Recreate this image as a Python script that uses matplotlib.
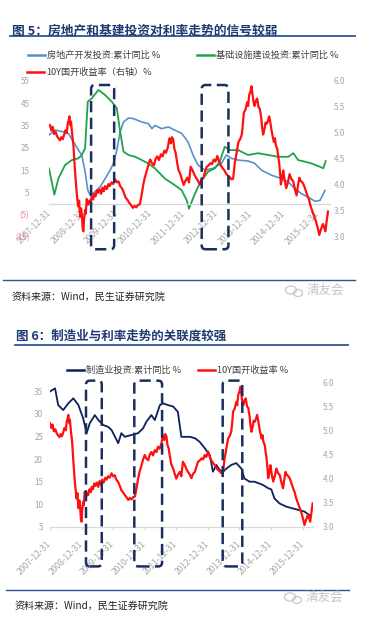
import matplotlib
matplotlib.use("Agg")
import matplotlib.pyplot as plt
from matplotlib.patches import FancyBboxPatch, Ellipse
from matplotlib.lines import Line2D
from matplotlib.transforms import IdentityTransform

plt.rcParams['font.family'] = ['Noto Sans CJK SC', 'DejaVu Sans']

# x values are decimal years
tick_pos = [2008, 2009, 2010, 2011, 2012, 2013, 2014, 2015, 2016]
tick_labels = ["2007-12-31", "2008-12-31", "2009-12-31", "2010-12-31", "2011-12-31",
               "2012-12-31", "2013-12-31", "2014-12-31", "2015-12-31"]

# 房地产开发投资:累计同比 (%)
re_x = [2007.97, 2008.15, 2008.4, 2008.55, 2008.7, 2008.85, 2008.95, 2009.05, 2009.13, 2009.2,
        2009.35, 2009.5, 2009.65, 2009.8, 2009.9, 2010.0, 2010.1, 2010.2, 2010.35, 2010.5,
        2010.75, 2010.94, 2011.05, 2011.14, 2011.34, 2011.54, 2011.74, 2011.94, 2012.13, 2012.28,
        2012.43, 2012.63, 2012.88, 2013.13, 2013.28, 2013.43, 2013.63, 2013.93, 2014.13, 2014.33,
        2014.63, 2014.93, 2015.13, 2015.33, 2015.53, 2015.73, 2015.93, 2016.08, 2016.23]
re_y = [30.7, 33, 32.2, 31.5, 27.7, 24, 21.8, 14.3, 6.1, 3.8,
        5.3, 7.5, 11.2, 15, 18, 24, 32.2, 36.6, 38.4, 38.1,
        36.6, 35.9, 33.6, 35.1, 33.6, 34.4, 32.9, 31.5, 27.7, 21.8,
        17.3, 15, 15.8, 18, 21.8, 20.3, 19.5, 19.1, 18, 15,
        12.7, 11.2, 9.7, 6.7, 4.4, 2.9, 1.0, 1.4, 5.9]

# 基础设施建设投资:累计同比 (%)
infra_x = [2007.97, 2008.13, 2008.25, 2008.45, 2008.65, 2008.85, 2008.95, 2009.05, 2009.13, 2009.25,
           2009.45, 2009.65, 2009.85, 2010.0, 2010.1, 2010.2, 2010.35, 2010.55, 2010.75, 2010.94,
           2011.14, 2011.44, 2011.74, 2011.94, 2012.09, 2012.16, 2012.28, 2012.43, 2012.58, 2012.73,
           2012.93, 2013.08, 2013.23, 2013.38, 2013.63, 2013.93, 2014.23, 2014.53, 2014.83, 2015.13,
           2015.28, 2015.43, 2015.63, 2015.83, 2016.08, 2016.18, 2016.25]
infra_y = [15.8, 4.0, 11.2, 17.3, 19.5, 20.3, 21.8, 24.8, 45.7, 47.2,
           51, 48.7, 45.7, 42.7, 32.2, 23.3, 21.8, 21, 19.5, 18,
           15.8, 11.2, 8.2, 6, 1.5, -2.3, 2.3, 7.5, 11.2, 14.3,
           15.8, 18.8, 25.5, 24, 24, 21.8, 22.6, 21.8, 21, 21,
           22.6, 19.5, 18.8, 18, 16.5, 15.8, 19.1]

# 制造业投资:累计同比 (%)
mfg_x = [2008.0, 2008.16, 2008.26, 2008.42, 2008.58, 2008.74, 2008.9, 2009.05, 2009.16, 2009.26,
         2009.42, 2009.53, 2009.69, 2009.84, 2009.95, 2010.11, 2010.16, 2010.26, 2010.37, 2010.58,
         2010.79, 2010.95, 2011.05, 2011.21, 2011.32, 2011.48, 2011.58, 2011.74, 2011.9, 2012.05,
         2012.16, 2012.43, 2012.59, 2012.74, 2012.9, 2013.06, 2013.16, 2013.27, 2013.37, 2013.48,
         2013.59, 2013.74, 2013.9, 2014.06, 2014.16, 2014.32, 2014.48, 2014.59, 2014.74, 2014.9,
         2015.01, 2015.11, 2015.27, 2015.48, 2015.69, 2015.9, 2016.06, 2016.22, 2016.27]
mfg_y = [34.9, 35.6, 31.9, 30.8, 32.3, 33.4, 31.9, 29.0, 25.7, 27.9,
         29.7, 28.6, 27.5, 27.1, 26.4, 24.2, 23.5, 25.7, 24.9, 25.3,
         25.7, 26.8, 28.2, 29.7, 28.6, 31.9, 32.3, 31.9, 31.6, 30.4,
         24.9, 24.9, 24.6, 23.8, 22.4, 20.9, 17.2, 18.7, 17.6, 17.2,
         17.9, 18.7, 19.1, 17.9, 15.7, 15.0, 15.0, 14.7, 14.3, 13.6,
         13.3, 11.3, 10.2, 9.5, 9.1, 8.7, 8.4, 7.6, 7.3]

# 10Y国开收益率 (%)
cdb_x = [2008.00, 2008.04, 2008.08, 2008.12, 2008.17, 2008.21, 2008.25, 2008.30, 2008.34, 2008.38,
         2008.42, 2008.46, 2008.50, 2008.53, 2008.56, 2008.58, 2008.61, 2008.63, 2008.66, 2008.70,
         2008.73, 2008.77, 2008.80, 2008.84, 2008.87, 2008.90, 2008.93, 2008.95, 2008.98, 2009.00,
         2009.02, 2009.05, 2009.07, 2009.10, 2009.14, 2009.18, 2009.21, 2009.25, 2009.29, 2009.32,
         2009.36, 2009.40, 2009.44, 2009.48, 2009.53, 2009.57, 2009.61, 2009.65, 2009.70, 2009.75,
         2009.79, 2009.84, 2009.89, 2009.95, 2010.00, 2010.05, 2010.10, 2010.16, 2010.21, 2010.26,
         2010.31, 2010.37, 2010.42, 2010.48, 2010.53, 2010.58, 2010.64, 2010.69, 2010.74, 2010.79,
         2010.84, 2010.90, 2010.95, 2011.00, 2011.05, 2011.11, 2011.16, 2011.21, 2011.26, 2011.32,
         2011.37, 2011.42, 2011.47, 2011.53, 2011.56, 2011.58, 2011.62, 2011.65, 2011.69, 2011.72,
         2011.76, 2011.79, 2011.84, 2011.90, 2011.95, 2012.00, 2012.05, 2012.11, 2012.16, 2012.21,
         2012.27, 2012.32, 2012.37, 2012.43, 2012.48, 2012.53, 2012.59, 2012.64, 2012.69, 2012.75,
         2012.80, 2012.85, 2012.90, 2012.95, 2013.01, 2013.06, 2013.11, 2013.17, 2013.22, 2013.27,
         2013.32, 2013.38, 2013.43, 2013.48, 2013.51, 2013.53, 2013.58, 2013.64, 2013.69, 2013.74,
         2013.77, 2013.80, 2013.85, 2013.90, 2013.93, 2013.96, 2014.00, 2014.03, 2014.06, 2014.09,
         2014.12, 2014.16, 2014.20, 2014.24, 2014.28, 2014.32, 2014.35, 2014.38, 2014.42, 2014.45,
         2014.49, 2014.53, 2014.56, 2014.59, 2014.63, 2014.66, 2014.70, 2014.73, 2014.76, 2014.80,
         2014.83, 2014.86, 2014.89, 2014.91, 2014.95, 2014.98, 2015.02, 2015.07, 2015.12, 2015.17,
         2015.22, 2015.28, 2015.33, 2015.38, 2015.42, 2015.46, 2015.50, 2015.55, 2015.59, 2015.64,
         2015.70, 2015.75, 2015.80, 2015.85, 2015.91, 2015.96, 2016.01, 2016.06, 2016.11, 2016.17,
         2016.21, 2016.24, 2016.28, 2016.32]
cdb_y = [5.15, 5.05, 5.12, 4.98, 5.02, 4.94, 4.90, 4.86, 4.92, 4.88,
         4.96, 5.05, 5.00, 5.18, 5.25, 5.32, 5.15, 5.22, 5.00, 4.77,
         4.45, 4.08, 3.85, 3.59, 3.70, 3.39, 3.55, 3.45, 3.15, 3.11,
         3.35, 3.52, 3.45, 3.73, 3.62, 3.70, 3.66, 3.78, 3.72, 3.83,
         3.78, 3.90, 3.85, 3.92, 3.83, 3.95, 3.88, 3.98, 3.92, 4.02,
         3.98, 4.05, 4.02, 4.11, 4.05, 4.07, 3.98, 3.93, 3.85, 3.76,
         3.72, 3.66, 3.62, 3.56, 3.60, 3.57, 3.62, 3.63, 3.80, 4.00,
         4.15, 4.28, 4.40, 4.49, 4.42, 4.38, 4.50, 4.55, 4.48, 4.59,
         4.55, 4.66, 4.62, 4.73, 4.85, 4.90, 4.80, 4.92, 4.87, 4.70,
         4.62, 4.49, 4.30, 4.21, 4.10, 4.00, 4.08, 4.14, 4.05, 4.35,
         4.28, 4.20, 4.14, 4.08, 4.01, 4.10, 4.14, 4.25, 4.35, 4.38,
         4.42, 4.40, 4.49, 4.45, 4.56, 4.45, 4.38, 4.32, 4.28, 4.22,
         4.18, 4.15, 4.11, 4.12, 4.30, 4.42, 4.60, 4.83, 4.88, 4.97,
         5.15, 5.39, 5.45, 5.59, 5.52, 5.73, 5.80, 5.90, 5.75, 5.60,
         5.52, 5.62, 5.66, 5.50, 5.46, 5.30, 5.10, 4.97, 5.08, 5.20,
         5.18, 5.25, 5.32, 5.22, 5.05, 4.95, 4.83, 4.90, 4.76, 4.70,
         4.55, 4.42, 4.20, 4.01, 4.15, 4.28, 4.10, 3.94, 4.05, 4.21,
         4.12, 4.07, 3.92, 3.80, 3.98, 4.14, 4.08, 4.05, 4.01, 3.92,
         3.80, 3.72, 3.59, 3.50, 3.39, 3.30, 3.18, 3.04, 3.15, 3.25,
         3.18, 3.11, 3.30, 3.49]

# highlighted periods (dashed boxes)
fig5_boxes = [(2009.23, 2009.92), (2012.54, 2013.34)]
fig6_boxes = [(2009.14, 2009.64), (2010.67, 2011.55), (2013.47, 2014.09)]

BLUE = '#5B8FCC'
GREEN = '#1FA24A'
RED = '#FF1010'
NAVY = '#0E1F5C'
BOXC = '#1B2F5E'
GRAY = '#A6A6A6'
TITLE = '#1F3A73'

W, H = 369, 624
fig = plt.figure(figsize=(W / 100, H / 100), dpi=100)


def px(x, y):
    return x / W, 1 - y / H


def neg_fmt(v):
    v = int(round(v))
    return f"({-v})" if v < 0 else str(v)


def dashed_box(ax, x0, x1, y0, y1):
    a, b = ax.transData.transform((x0, y0))
    c, d = ax.transData.transform((x1, y1))
    box = FancyBboxPatch((a, b), c - a, d - b, boxstyle="round,pad=0,rounding_size=4",
                         transform=IdentityTransform(), fill=False, edgecolor=BOXC,
                         lw=1.8, linestyle=(0, (4.5, 2.2)), zorder=10)
    fig.add_artist(box)


def legend_item(x, y, color, label):
    x0, y0 = px(x, y)
    x1, _ = px(x + 17, y)
    fig.add_artist(Line2D([x0, x1], [y0, y0], color=color, lw=1.8, transform=fig.transFigure))
    fig.text(x1 + 2 / W, y0, label, fontsize=6.6, color='#404040', va='center')


def watermark(x, y):
    # small chat-bubble icon + name, light gray
    fig.add_artist(Ellipse((x, H - y), 11, 8, transform=IdentityTransform(), fill=False,
                           edgecolor='#C8C8C8', lw=0.9))
    fig.add_artist(Ellipse((x + 7, H - y - 3), 9, 7, transform=IdentityTransform(), fill=False,
                           edgecolor='#C8C8C8', lw=0.9))
    fig.text(*px(x + 16, y), "清友会", fontsize=9, color='#C4C4C4', va='center')


def style_axes(ax, axr):
    for a in (ax, axr):
        for s in ('top', 'left', 'right'):
            a.spines[s].set_visible(False)
    axr.spines['bottom'].set_visible(False)
    ax.spines['bottom'].set_color('#D9D9D9')
    ax.spines['bottom'].set_linewidth(0.9)
    ax.set_xticks(tick_pos)
    ax.set_xticklabels(tick_labels, rotation=45, ha='right', va='center',
                       rotation_mode='anchor', fontsize=6.1, color=GRAY)


# ---------------- 图 5 ----------------
fig.text(*px(12, 31), "图 5：房地产和基建投资对利率走势的信号较弱", fontsize=9.2,
         fontweight='bold', color=TITLE, va='center')
fig.add_artist(Line2D([10 / W, 355 / W], [1 - 35.5 / H] * 2, color='#2F5597', lw=1.3,
                      transform=fig.transFigure))
legend_item(28, 55, BLUE, "房地产开发投资:累计同比 %")
legend_item(197, 55, GREEN, "基础设施建设投资:累计同比 %")
legend_item(27, 72, RED, "10Y国开收益率（右轴）%")

ax1 = fig.add_axes([49 / W, 1 - 237 / H, (330 - 49) / W, (237 - 81) / H])
ax1r = ax1.twinx()
ax1.spines['bottom'].set_position(('data', 0))
ax1.plot(re_x, re_y, color=BLUE, lw=1.2)
ax1.plot(infra_x, infra_y, color=GREEN, lw=1.3)
ax1r.plot(cdb_x, cdb_y, color=RED, lw=1.6)
ax1.set_xlim(2007.97, 2016.38)
ax1.set_ylim(-15, 55)
ax1r.set_ylim(3.0, 6.0)
ax1.patch.set_visible(False)
style_axes(ax1, ax1r)
ax1.tick_params(axis='x', length=0, pad=6)
ax1.set_yticks(range(-15, 56, 10))
ax1.set_yticklabels([neg_fmt(v) for v in range(-15, 56, 10)], fontsize=5.8)
for lab, v in zip(ax1.get_yticklabels(), range(-15, 56, 10)):
    lab.set_color('#E7899C' if v < 0 else GRAY)
ax1.tick_params(axis='y', length=0, pad=14)
ax1r.set_yticks([3.0, 3.5, 4.0, 4.5, 5.0, 5.5, 6.0])
ax1r.set_yticklabels(["3.0", "3.5", "4.0", "4.5", "5.0", "5.5", "6.0"], fontsize=5.8, color=GRAY)
ax1r.tick_params(axis='y', length=0, pad=2.5)
for x0, x1 in fig5_boxes:
    dashed_box(ax1, x0, x1, -20.5, 53.2)

fig.add_artist(Line2D([3 / W, 355 / W], [1 - 280 / H] * 2, color='#2F5597', lw=1.0,
                      transform=fig.transFigure))
fig.text(*px(12, 297), "资料来源：Wind，民生证券研究院", fontsize=7.2, color='#222222', va='center')
watermark(291, 290)

# ---------------- 图 6 ----------------
fig.text(*px(16, 336), "图 6：制造业与利率走势的关联度较强", fontsize=9,
         fontweight='bold', color=TITLE, va='center')
fig.add_artist(Line2D([15 / W, 348 / W], [1 - 345 / H] * 2, color='#2F5597', lw=1.3,
                      transform=fig.transFigure))
legend_item(67, 370, NAVY, "制造业投资:累计同比 %")
legend_item(198, 370, RED, "10Y国开收益率 %")

ax2 = fig.add_axes([50 / W, 1 - 527 / H, (313 - 50) / W, (527 - 382) / H])
ax2r = ax2.twinx()
ax2.plot(mfg_x, mfg_y, color=NAVY, lw=1.3)
ax2r.plot(cdb_x, cdb_y, color=RED, lw=1.6)
ax2.set_xlim(2008.0, 2016.33)
ax2.set_ylim(5, 37)
ax2r.set_ylim(3.0, 6.0)
style_axes(ax2, ax2r)
ax2.tick_params(axis='x', length=2, color='#D9D9D9', pad=9)
ax2.set_yticks(range(5, 36, 5))
ax2.set_yticklabels([str(v) for v in range(5, 36, 5)], fontsize=5.8, color=GRAY)
ax2.tick_params(axis='y', length=0, pad=5)
ax2r.set_yticks([3.0, 3.5, 4.0, 4.5, 5.0, 5.5, 6.0])
ax2r.set_yticklabels(["3.0", "3.5", "4.0", "4.5", "5.0", "5.5", "6.0"], fontsize=5.8, color=GRAY)
ax2r.tick_params(axis='y', length=0, pad=7)
for x0, x1 in fig6_boxes:
    dashed_box(ax2, x0, x1, -3.7, 37.3)

fig.add_artist(Line2D([6 / W, 349 / W], [1 - 590 / H] * 2, color='#2F5597', lw=1.0,
                      transform=fig.transFigure))
fig.text(*px(15, 606), "资料来源：Wind，民生证券研究院", fontsize=7.2, color='#222222', va='center')
watermark(290, 597)

fig.savefig("out.png", dpi=100)
